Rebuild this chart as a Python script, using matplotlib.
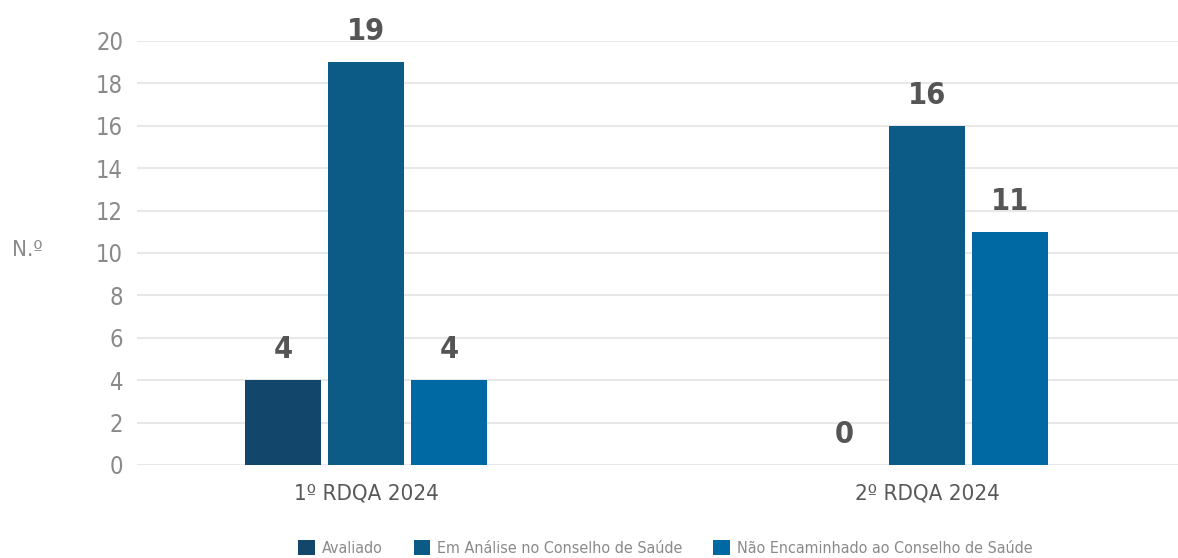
import numpy as np
import matplotlib
matplotlib.use('agg')
import matplotlib.pyplot as plt

plt.rcParams['font.family'] = ['DejaVu Sans']
plt.rcParams['font.stretch'] = 'condensed'

# data
categories = ['1º RDQA 2024', '2º RDQA 2024']
series_names = ['Avaliado', 'Em Análise no Conselho de Saúde',
                'Não Encaminhado ao Conselho de Saúde']
avaliado = [4, 0]
em_analise = [19, 16]
nao_encaminhado = [4, 11]
yticks = [0, 2, 4, 6, 8, 10, 12, 14, 16, 18, 20]

colors = ['#12476b', '#0c5a86', '#0069a3']
series = [avaliado, em_analise, nao_encaminhado]

fig = plt.figure(figsize=(11.78, 5.58), dpi=100)
ax = fig.add_axes([137/1178, 1 - 465/558, 1 - 137/1178, (465 - 41)/558])

x = np.arange(len(categories))
width = 0.1355
step = 0.148
handles = []
for i, (vals, col, name) in enumerate(zip(series, colors, series_names)):
    pos = x + (i - 1) * step
    b = ax.bar(pos, vals, width, color=col, label=name, zorder=3)
    handles.append(b)
    for px, v in zip(pos, vals):
        ax.annotate(str(v), (px, v), xytext=(0, 16), textcoords='offset points',
                    ha='center', va='baseline', fontsize=22, fontweight='bold',
                    color='#555555', annotation_clip=False)

ax.set_xlim(-229/561, 1 + (1178 - 927)/561)
ax.set_ylim(0, 20)
ax.set_yticks(yticks)
ax.set_xticks(x)
ax.set_xticklabels(categories, fontsize=16, color='#595959')
ax.tick_params(axis='y', length=0, pad=10, labelsize=17, labelcolor='#8a8a8a')
ax.tick_params(axis='x', length=0, pad=13)
ax.grid(axis='y', color='#e8e8e8', linewidth=1.5, zorder=0)
for s in ax.spines.values():
    s.set_visible(False)

fig.text(12/1178, 1 - 250/558, 'N.º', fontsize=16, color='#8a8a8a',
         ha='left', va='center')

fig.legend(handles=handles, loc='center', bbox_to_anchor=(0.565, 1 - 548/558),
           ncol=3, frameon=False, fontsize=11.5, labelcolor='#8a8a8a',
           handlelength=1.05, handleheight=1.05, handletextpad=0.45,
           columnspacing=1.9)

plt.savefig('out.png', dpi=100)
plt.close()
